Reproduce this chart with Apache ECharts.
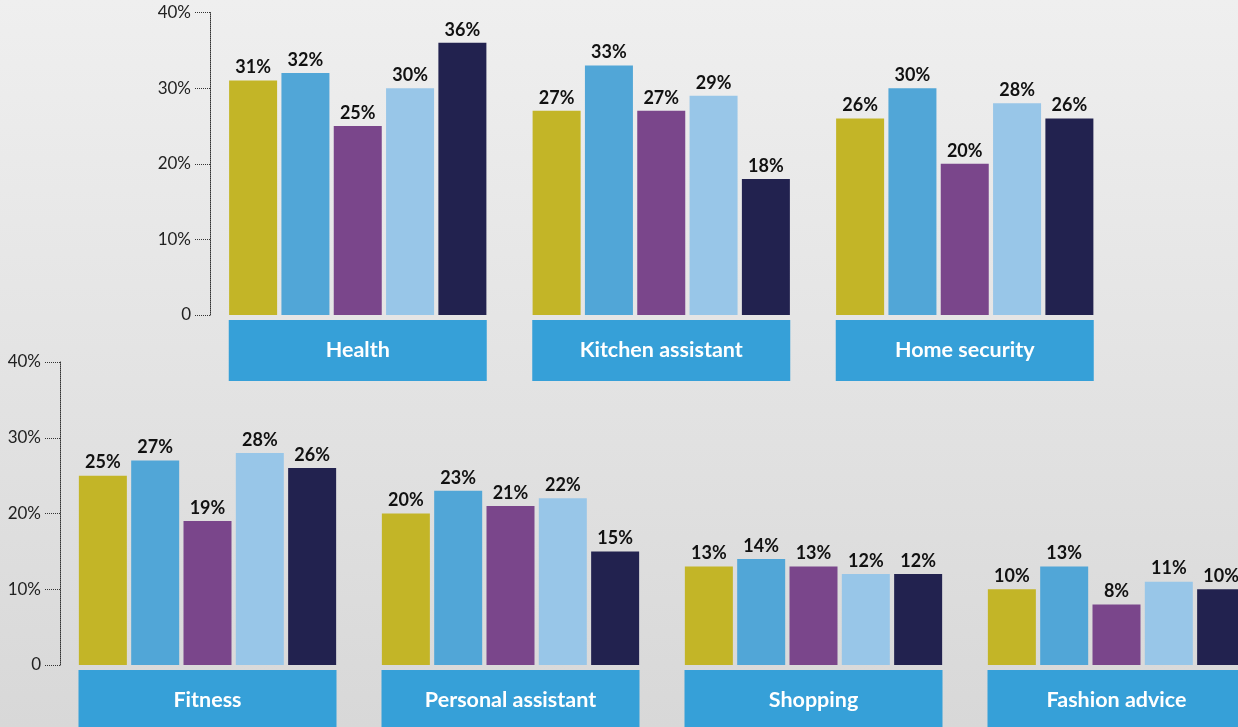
<!DOCTYPE html>
<html>
<head>
<meta charset="utf-8">
<script src="https://cdn.jsdelivr.net/npm/echarts@6/dist/echarts.min.js"></script>
<style>
  html, body { margin: 0; padding: 0; overflow: hidden; }
  /* wider than the window: the last group is cut off at the right edge */
  #main { width: 1300px; height: 727px; }
</style>
</head>
<body>
<div id="main"></div>
<script>
// categories for the two rows
var topCats = ["Health", "Kitchen assistant", "Home security"];
var bottomCats = ["Fitness", "Personal assistant", "Shopping", "Fashion advice"];

// five respondent groups, values in %
var seriesNames = ["Group 1", "Group 2", "Group 3", "Group 4", "Group 5"];
var topValues = [
  [31, 27, 26],
  [32, 33, 30],
  [25, 27, 20],
  [30, 29, 28],
  [36, 18, 26]
];
var bottomValues = [
  [25, 20, 13, 10],
  [27, 23, 14, 13],
  [19, 21, 13, 8],
  [28, 22, 12, 11],
  [26, 15, 12, 10]
];
var yTicks = [0, 10, 20, 30, 40];

var colors = ["#c3b527", "#51a6d7", "#7a468b", "#98c6e8", "#22224f"];
var font = "Lato, 'Open Sans', sans-serif";

function yAxisFor(idx) {
  return {
    type: "value",
    gridIndex: idx,
    min: yTicks[0],
    max: yTicks[yTicks.length - 1],
    interval: 10,
    offset: -4,
    splitLine: { show: false },
    axisLine: { show: true, lineStyle: { color: "#333", type: "dotted", width: 1 } },
    axisTick: { show: true, length: 16, lineStyle: { color: "#333", type: "dotted", width: 1 } },
    axisLabel: {
      margin: 19,
      color: "#222",
      fontSize: 17,
      fontFamily: font,
      formatter: function (v) { return v === 0 ? "0" : v + "%"; }
    }
  };
}

function xAxisFor(idx, cats) {
  return {
    type: "category",
    gridIndex: idx,
    data: cats,
    axisLine: { show: false },
    axisTick: { show: false },
    axisLabel: {
      interval: 0,
      margin: 5,
      width: 258,
      height: 61,
      lineHeight: 61,
      align: "center",
      verticalAlign: "top",
      backgroundColor: "#36a0d8",
      color: "#fff",
      fontSize: 21.5,
      fontWeight: "bold",
      fontFamily: font
    }
  };
}

var series = [];
[topValues, bottomValues].forEach(function (rows, g) {
  rows.forEach(function (vals, i) {
    series.push({
      name: seriesNames[i],
      type: "bar",
      xAxisIndex: g,
      yAxisIndex: g,
      data: vals,
      barWidth: 48,
      barGap: "9%",
      itemStyle: { color: colors[i] },
      label: {
        show: true,
        position: "top",
        distance: 4,
        color: "#111",
        fontSize: 18,
        fontWeight: "bold",
        fontFamily: font,
        formatter: "{c}%"
      }
    });
  });
});

var chart = echarts.init(document.getElementById("main"));
chart.setOption({
  animation: false,
  backgroundColor: {
    type: "linear", x: 0, y: 0, x2: 0, y2: 1,
    colorStops: [
      { offset: 0, color: "#efefef" },
      { offset: 1, color: "#d8d8d8" }
    ]
  },
  color: colors,
  grid: [
    { left: 206, top: 12.5, width: 910.5, height: 302.5, outerBoundsMode: "none" },
    { left: 56, top: 362, width: 1212, height: 303, outerBoundsMode: "none" }
  ],
  xAxis: [xAxisFor(0, topCats), xAxisFor(1, bottomCats)],
  yAxis: [yAxisFor(0), yAxisFor(1)],
  series: series
});
</script>
</body>
</html>
